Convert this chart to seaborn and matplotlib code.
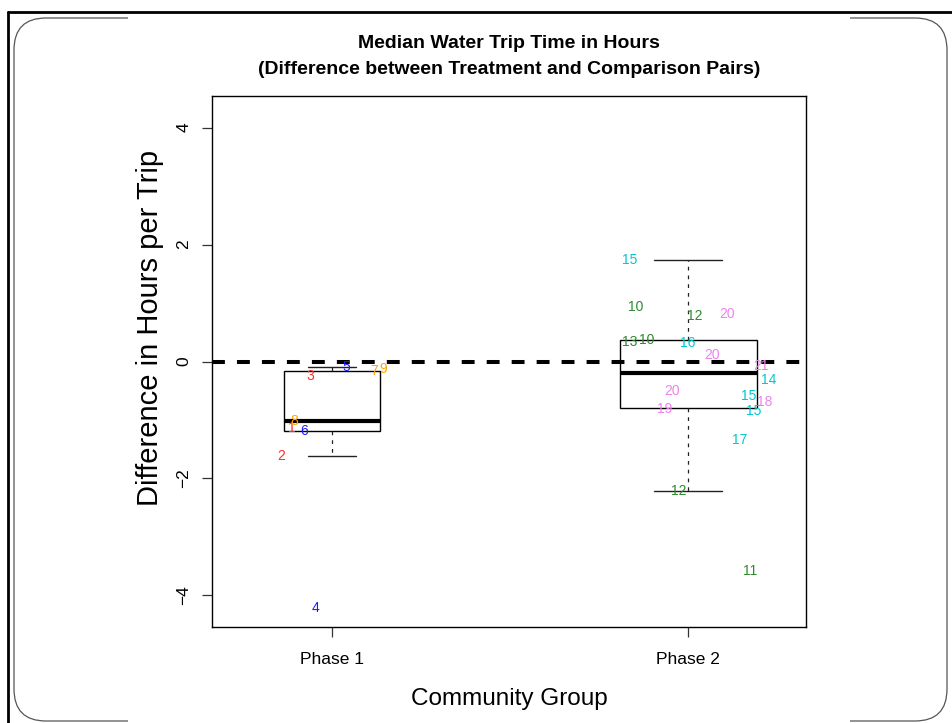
import numpy as np
import pandas as pd
import matplotlib
matplotlib.use("Agg")
import matplotlib.pyplot as plt
from matplotlib.patches import FancyBboxPatch, Rectangle
from matplotlib.lines import Line2D
from matplotlib.transforms import IdentityTransform
import seaborn as sns

# ---- data -------------------------------------------------------------
phases = ["Phase 1", "Phase 2"]

# Phase 1 community pairs: pair id, difference (hours per trip), label jitter
p1_ids = [1, 2, 3, 4, 5, 6, 7, 8, 9]
p1_diff = [-1.13, -1.62, -0.24, -4.21, -0.09, -1.19, -0.16, -1.02, -0.12]
p1_jitter = [-0.112, -0.142, -0.062, -0.047, 0.040, -0.079, 0.119, -0.106, 0.143]

# Phase 2 community pairs
p2_ids = [15, 10, 12, 20, 13, 10, 16, 20, 21, 14, 20, 15, 18, 19, 15, 17, 12, 11]
p2_diff = [1.74, 0.93, 0.77, 0.82, 0.33, 0.375, 0.32, 0.11, -0.08, -0.32,
           -0.51, -0.59, -0.70, -0.82, -0.84, -1.35, -2.22, -3.58]
p2_jitter = [-0.165, -0.147, 0.020, 0.110, -0.165, -0.116, 0.000, 0.067, 0.204, 0.226,
             -0.046, 0.170, 0.216, -0.065, 0.183, 0.146, -0.027, 0.174]

# colour of each block of pair ids
id_blocks = [(1, 3, "#FF2A2A"), (4, 6, "#1A1AFF"), (7, 9, "#FFA500"),
             (10, 13, "#2E8B2E"), (14, 17, "#00C8D0"), (18, 21, "#EE82EE")]


def label_color(pid):
    for lo, hi, col in id_blocks:
        if lo <= pid <= hi:
            return col
    return "black"


df = pd.DataFrame({
    "phase": [phases[0]] * len(p1_diff) + [phases[1]] * len(p2_diff),
    "diff": p1_diff + p2_diff,
    "pid": p1_ids + p2_ids,
    "jit": p1_jitter + p2_jitter,
})

# ---- figure -----------------------------------------------------------
sns.set_theme(style="white")
plt.rcParams["font.family"] = ["Liberation Sans", "DejaVu Sans"]
plt.rcParams.update({"text.color": "black", "axes.labelcolor": "black",
                     "xtick.color": "black", "ytick.color": "black"})

W, H = 952, 723
fig = plt.figure(figsize=(W / 100, H / 100), dpi=100)
fig.patch.set_facecolor("white")

# slide frame around the chart (kept underneath the axes)
px = IdentityTransform()
fig.add_artist(FancyBboxPatch((14, H - 721), 933, 703,
                              boxstyle="round,pad=0,rounding_size=32",
                              transform=px, facecolor="none",
                              edgecolor="#555555", linewidth=0.9, zorder=-3))
fig.add_artist(Rectangle((128, 0), 722, H - 14, transform=px,
                         facecolor="white", edgecolor="none", zorder=-2))
fig.add_artist(Line2D([8, W], [H - 12, H - 12], transform=px,
                      color="black", linewidth=2.0, zorder=-1))
fig.add_artist(Line2D([8, 8], [0, H - 12], transform=px,
                      color="black", linewidth=2.0, zorder=-1))

ax = fig.add_axes([212 / W, 1 - 627 / H, (806 - 212) / W, (627 - 96) / H])
ax.set_facecolor("white")

box_widths = [0.27, 0.385]
for ph, bw in zip(phases, box_widths):
    sns.boxplot(data=df[df["phase"] == ph], x="phase", y="diff", order=phases,
                width=bw, showfliers=False, color="white", linecolor="black",
                linewidth=1.0, ax=ax,
                medianprops=dict(linewidth=3.0, color="black"),
                whiskerprops=dict(linestyle=(0, (3, 4)), linewidth=0.9, color="#222222"),
                capprops=dict(linewidth=1.0, color="#222222"),
                boxprops=dict(edgecolor="black", linewidth=1.0))

# zero reference line
ax.axhline(0, color="black", linewidth=2.9, linestyle=(0, (3.2, 3.0)), zorder=5)

# pair id labels at each difference value
for _, r in df.iterrows():
    xpos = phases.index(r["phase"]) + r["jit"]
    ax.text(xpos, r["diff"], str(int(r["pid"])), color=label_color(int(r["pid"])),
            ha="center", va="center", fontsize=10, zorder=6)

ax.set_xlim(-0.337, 1.331)
ax.set_ylim(-4.54, 4.54)
ax.set_yticks([-4, -2, 0, 2, 4])
ax.set_yticklabels(["\u22124", "\u22122", "0", "2", "4"])

for s in ax.spines.values():
    s.set_visible(True)
    s.set_color("black")
    s.set_linewidth(1.0)

ax.tick_params(axis="both", which="both", direction="out", length=7, width=0.9,
               color="#333333", labelsize=12.5, left=True, bottom=True)
ax.tick_params(axis="x", pad=11)
ax.tick_params(axis="y", pad=8)
plt.setp(ax.get_yticklabels(), rotation=90, va="center")

ax.set_xlabel("Community Group", fontsize=17.5)
ax.set_ylabel("Difference in Hours per Trip", fontsize=21)
ax.xaxis.set_label_coords(0.5, (627 - 699) / (627 - 96))
ax.yaxis.set_label_coords((150 - 212) / (806 - 212), (627 - 328) / (627 - 96))
ax.xaxis.label.set_va("center")
ax.yaxis.label.set_va("center")

cx = (212 + 806) / 2 / W
fig.text(cx, 1 - 44 / H, "Median Water Trip Time in Hours",
         ha="center", va="center", fontsize=14, fontweight="bold")
fig.text(cx, 1 - 69 / H, "(Difference between Treatment and Comparison Pairs)",
         ha="center", va="center", fontsize=14, fontweight="bold")

fig.savefig("out.png", dpi=100, facecolor="white")
